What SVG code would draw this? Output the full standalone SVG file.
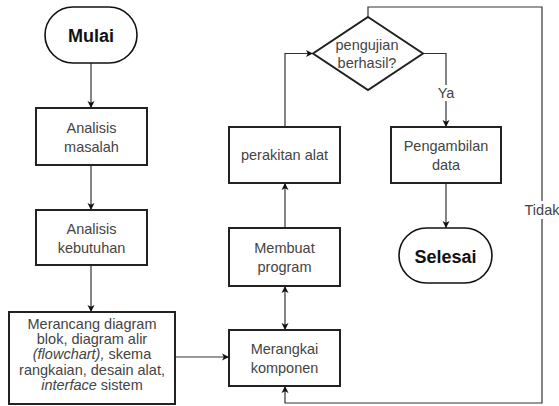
<svg xmlns="http://www.w3.org/2000/svg" width="559" height="406" viewBox="0 0 559 406">
<style>
.box{fill:#fff;stroke:#222;stroke-width:2}
.term{fill:#fff;stroke:#111;stroke-width:1.6}
.t{font-family:"Liberation Sans",Arial,sans-serif;font-size:14.5px;fill:#444;text-anchor:middle}
.b{font-family:"Liberation Sans",Arial,sans-serif;font-size:18px;font-weight:bold;fill:#111;text-anchor:middle}
.c{fill:none;stroke:#333;stroke-width:1.2}
.lbl{fill:#fff;stroke:none}
</style>
<defs>
<marker id="ah" markerWidth="8" markerHeight="8" refX="7" refY="4" orient="auto" markerUnits="userSpaceOnUse">
<path d="M0,0.5 L7,4 L0,7.5 L1.8,4 Z" fill="#111"/>
</marker>
<marker id="as" markerWidth="8" markerHeight="8" refX="0" refY="4" orient="auto" markerUnits="userSpaceOnUse">
<path d="M7,0.5 L0,4 L7,7.5 L5.2,4 Z" fill="#111"/>
</marker>
</defs>
<rect width="559" height="406" fill="#fff"/>
<g id="connectors">
<path class="c" d="M91,63 V108" marker-end="url(#ah)"/>
<path class="c" d="M91,165 V210" marker-end="url(#ah)"/>
<path class="c" d="M91,265 V312" marker-end="url(#ah)"/>
<path class="c" d="M175,357 H229" marker-end="url(#ah)"/>
<path class="c" d="M285,286 V330" marker-start="url(#as)" marker-end="url(#ah)"/>
<path class="c" d="M285,228 V183" marker-end="url(#ah)"/>
<path class="c" d="M285,127 V53.5 H313" marker-end="url(#ah)"/>
<path class="c" d="M423,53.5 H446 V127" marker-end="url(#ah)"/>
<path class="c" d="M446,183 V228" marker-end="url(#ah)"/>
<path class="c" d="M368,17 V7 H542 V403 H285 V386" marker-end="url(#ah)"/>
<rect class="lbl" x="436" y="85" width="20" height="16"/>
<text class="t" x="446" y="98">Ya</text>
<rect class="lbl" x="525" y="201" width="34" height="18"/>
<text class="t" x="542" y="215">Tidak</text>
</g>
<g id="mulai">
<rect class="term" x="45" y="7" width="92" height="56" rx="28"/>
<text class="b" x="91" y="42">Mulai</text>
</g>
<g id="analisis-masalah">
<rect class="box" x="36" y="108" width="111" height="57"/>
<text class="t" x="91.5" y="133">Analisis</text>
<text class="t" x="91.5" y="151.5">masalah</text>
</g>
<g id="analisis-kebutuhan">
<rect class="box" x="36" y="210" width="111" height="55"/>
<text class="t" x="91.5" y="234">Analisis</text>
<text class="t" x="91.5" y="252.5">kebutuhan</text>
</g>
<g id="merancang">
<rect class="box" x="9" y="312" width="166" height="92"/>
<text class="t" x="92" y="329">Merancang diagram</text>
<text class="t" x="92" y="344.2">blok, diagram alir</text>
<text class="t" x="92" y="359.4"><tspan font-style="italic">(flowchart),</tspan> skema</text>
<text class="t" x="92" y="374.6">rangkaian, desain alat,</text>
<text class="t" x="92" y="389.8"><tspan font-style="italic">interface</tspan> sistem</text>
</g>
<g id="merangkai">
<rect class="box" x="229" y="330" width="111" height="56"/>
<text class="t" x="284.5" y="354">Merangkai</text>
<text class="t" x="284.5" y="372.5">komponen</text>
</g>
<g id="membuat-program">
<rect class="box" x="229" y="228" width="111" height="58"/>
<text class="t" x="284.5" y="253">Membuat</text>
<text class="t" x="284.5" y="271.5">program</text>
</g>
<g id="perakitan">
<rect class="box" x="229" y="127" width="111" height="56"/>
<text class="t" x="284.5" y="160">perakitan alat</text>
</g>
<g id="pengujian">
<polygon class="box" points="368,17 423,53.5 368,90 313,53.5"/>
<text class="t" x="367" y="50">pengujian</text>
<text class="t" x="367" y="68">berhasil?</text>
</g>
<g id="pengambilan">
<rect class="box" x="391" y="127" width="110" height="56"/>
<text class="t" x="446" y="151">Pengambilan</text>
<text class="t" x="446" y="169.5">data</text>
</g>
<g id="selesai">
<rect class="term" x="399" y="228" width="93" height="55" rx="27.5"/>
<text class="b" x="445.5" y="263">Selesai</text>
</g>
</svg>
